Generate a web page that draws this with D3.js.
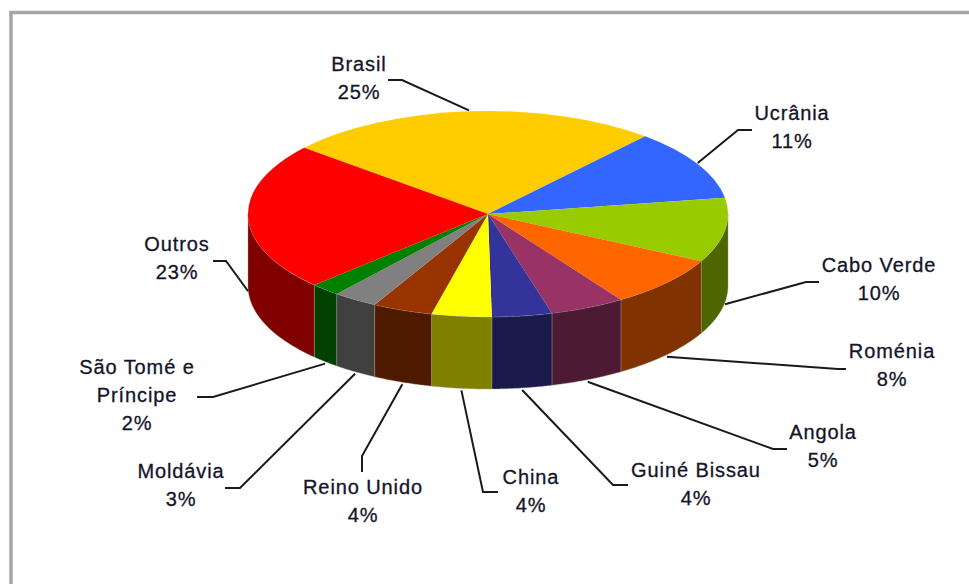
<!DOCTYPE html>
<html lang="pt">
<head>
<meta charset="utf-8">
<script src="https://cdn.jsdelivr.net/npm/d3@7"></script>
<style>
  html, body { margin: 0; padding: 0; background: #fff; }
  svg { display: block; }
  text { font-family: "Liberation Sans", Arial, sans-serif; font-size: 20px; letter-spacing: 0.9px;
         fill: #14142a; stroke: #14142a; stroke-width: 0.3px; text-anchor: middle; }
</style>
</head>
<body>
<svg id="chart" width="969" height="584"></svg>
<script>
// Share of each origin, in percent
const categories = ["Brasil", "Ucrânia", "Cabo Verde", "Roménia", "Angola", "Guiné Bissau",
                    "China", "Reino Unido", "Moldávia", "São Tomé e Príncipe", "Outros"];
const shares = [25, 11, 10, 8, 5, 4, 4, 4, 3, 2, 23];
const topColors = ["#ffcc00", "#3366ff", "#99cc00", "#ff6600", "#993366", "#333399",
                   "#ffff00", "#993300", "#808080", "#008000", "#ff0000"];
const labelLines = [["Brasil"], ["Ucrânia"], ["Cabo Verde"], ["Roménia"], ["Angola"], ["Guiné Bissau"],
                    ["China"], ["Reino Unido"], ["Moldávia"], ["São Tomé e", "Príncipe"], ["Outros"]];

// Label placement: text centre of the first line, and the leader's elbow and end
const labelAnchors = [[359, 71], [792, 120], [879, 272], [892, 358], [823, 439], [696, 477],
                      [531, 484], [363, 494], [181, 478], [137, 374], [177, 251]];
const leaderBends = [
  [[402, 80], [388, 80]], [[738, 130], [752, 130]], [[806, 282], [819, 282]],
  [[838, 369], [846, 369]], [[773, 449], [787, 449]], [[613, 485], [628, 485]],
  [[483, 492], [498, 492]], [[362, 456], [362, 472]], [[240, 488], [225, 488]],
  [[213, 397], [197, 397]], [[226, 261], [213, 261]]
];
const lineHeight = 28;

const svg = d3.select("#chart");

// Panel frame, running off the right and bottom edges
svg.append("path")
  .attr("d", "M11,584V12.5H969")
  .attr("fill", "none")
  .attr("stroke", "#a6a6a6")
  .attr("stroke-width", 3.5);

const cx = 488, cy = 214, rx = 240, ry = 103, depth = 72;
const px = d3.scaleLinear().domain([-1, 1]).range([cx - rx, cx + rx]);
const py = d3.scaleLinear().domain([-1, 1]).range([cy - ry, cy + ry]);

const startAngle = -50 * Math.PI / 180;
const pie = d3.pie().sort(null).value(d => d)
  .startAngle(startAngle).endAngle(startAngle + 2 * Math.PI);
const slices = pie(shares);

const rimX = a => px(Math.sin(a));
const rimY = a => py(-Math.cos(a));
const halfDark = c => { const k = d3.rgb(c); return d3.rgb(k.r * .5, k.g * .5, k.b * .5).formatHex(); };

// Side wall: only the part of the rim facing the viewer, angles from 90° to 270°
const wallFront = [Math.PI / 2, 3 * Math.PI / 2];
const rimLine = d3.line().x(d => d[0]).y(d => d[1]);
const walls = svg.append("g");
slices.forEach((s, i) => {
  const a0 = Math.max(s.startAngle, wallFront[0]);
  const a1 = Math.min(s.endAngle, wallFront[1]);
  if (a1 <= a0) return;
  const arc = d3.range(0, 41).map(k => a0 + (a1 - a0) * k / 40);
  const upper = arc.map(a => [rimX(a), rimY(a)]);
  const lower = arc.slice().reverse().map(a => [rimX(a), rimY(a) + depth]);
  walls.append("path")
    .attr("d", rimLine(upper.concat(lower)) + "Z")
    .attr("fill", halfDark(topColors[i]))
    .attr("stroke", "#9a9a88")
    .attr("stroke-width", 0.4);
});

// Top face: a circular pie flattened into an ellipse
const arcGen = d3.arc().innerRadius(0).outerRadius(rx);
const topFace = svg.append("g")
  .attr("transform", `translate(${cx},${cy}) scale(1,${ry / rx})`);
topFace.selectAll("path").data(slices).join("path")
  .attr("d", arcGen)
  .attr("fill", (d, i) => topColors[i]);

// Leaders start at the slice's middle angle on the outer rim
const leaders = svg.append("g").attr("fill", "none").attr("stroke", "#1a1a1a").attr("stroke-width", 2);
slices.forEach((s, i) => {
  const mid = (s.startAngle + s.endAngle) / 2;
  const front = Math.sin(mid - Math.PI / 2) > -0.05 && Math.abs(mid) > 1.5;
  const start = [rimX(mid), rimY(mid) + (front ? depth + 2 : -1)];
  leaders.append("path").attr("d", rimLine([start, ...leaderBends[i]]));
});

// Category name lines, then the percentage
const labels = svg.append("g");
categories.forEach((c, i) => {
  const [x, y] = labelAnchors[i];
  const lines = labelLines[i].concat(shares[i] + "%");
  lines.forEach((t, k) => {
    labels.append("text").attr("x", x).attr("y", y + k * lineHeight).text(t);
  });
});
</script>
</body>
</html>
